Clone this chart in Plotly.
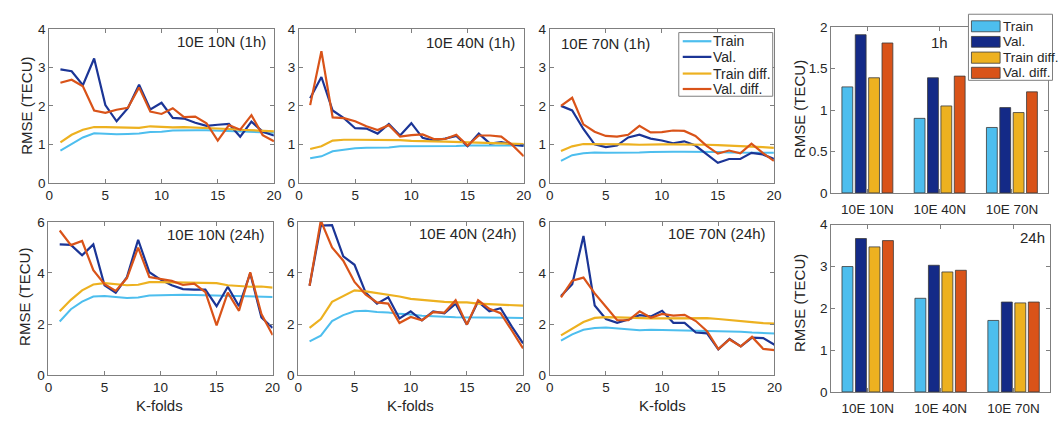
import plotly.graph_objects as go

W, H = 1061, 425
kfolds = list(range(1, 21))
series_names = ["Train", "Val.", "Train diff.", "Val. diff."]
line_colors = ["#4DBEEE", "#1B3596", "#EDB120", "#D95319"]
bar_colors = ["#4DBEEE", "#142A87", "#EDB120", "#D95319"]
stations = ["10E 10N", "10E 40N", "10E 70N"]

# ---- 1h line panels ----
p1_train = [0.84, 1.00, 1.18, 1.29, 1.28, 1.26, 1.27, 1.28, 1.32, 1.33, 1.36, 1.37, 1.37, 1.37, 1.36, 1.35, 1.33, 1.32, 1.31, 1.30]
p1_val = [2.95, 2.90, 2.54, 3.23, 2.02, 1.60, 1.94, 2.55, 1.91, 2.08, 1.69, 1.67, 1.56, 1.48, 1.51, 1.53, 1.20, 1.59, 1.33, 1.23]
p1_traindiff = [1.05, 1.25, 1.38, 1.45, 1.45, 1.44, 1.43, 1.43, 1.47, 1.45, 1.44, 1.45, 1.44, 1.43, 1.42, 1.40, 1.38, 1.37, 1.36, 1.34]
p1_valdiff = [2.60, 2.68, 2.51, 1.88, 1.82, 1.90, 1.95, 2.48, 1.85, 1.79, 1.94, 1.71, 1.72, 1.55, 1.10, 1.50, 1.38, 1.76, 1.24, 1.08]

p2_train = [0.64, 0.69, 0.82, 0.86, 0.90, 0.91, 0.92, 0.92, 0.95, 0.95, 0.95, 0.96, 0.96, 0.96, 0.97, 0.97, 0.97, 0.97, 0.97, 0.97]
p2_val = [2.20, 2.75, 1.88, 1.68, 1.42, 1.41, 1.28, 1.53, 1.23, 1.55, 1.17, 1.10, 1.15, 1.22, 0.95, 1.28, 1.02, 1.06, 1.00, 0.96]
p2_traindiff = [0.88, 0.95, 1.10, 1.12, 1.12, 1.12, 1.12, 1.11, 1.11, 1.09, 1.09, 1.08, 1.07, 1.06, 1.06, 1.04, 1.03, 1.03, 1.02, 1.01]
p2_valdiff = [2.02, 3.42, 1.70, 1.68, 1.60, 1.47, 1.37, 1.50, 1.20, 1.24, 1.26, 1.14, 1.14, 1.25, 0.97, 1.23, 1.23, 1.20, 0.98, 0.69]

p3_train = [0.57, 0.72, 0.77, 0.79, 0.78, 0.78, 0.79, 0.79, 0.80, 0.81, 0.81, 0.81, 0.81, 0.81, 0.80, 0.79, 0.79, 0.79, 0.79, 0.78]
p3_val = [2.00, 1.88, 1.40, 1.00, 0.93, 0.97, 1.18, 1.25, 1.15, 1.10, 1.03, 1.08, 0.97, 0.75, 0.52, 0.62, 0.62, 0.78, 0.74, 0.62]
p3_traindiff = [0.83, 0.95, 1.01, 1.01, 1.00, 1.00, 1.00, 0.99, 1.00, 1.00, 1.00, 1.00, 1.00, 0.99, 0.98, 0.97, 0.95, 0.94, 0.93, 0.91]
p3_valdiff = [2.00, 2.21, 1.52, 1.33, 1.22, 1.20, 1.25, 1.48, 1.31, 1.32, 1.36, 1.35, 1.22, 0.96, 0.76, 0.84, 0.77, 1.02, 0.78, 0.57]

# ---- 24h line panels ----
p4_train = [2.10, 2.58, 2.88, 3.08, 3.10, 3.07, 3.02, 3.04, 3.12, 3.13, 3.15, 3.15, 3.14, 3.13, 3.12, 3.09, 3.09, 3.08, 3.09, 3.06]
p4_val = [5.12, 5.10, 4.69, 5.12, 3.52, 3.23, 3.84, 5.30, 4.03, 3.74, 3.52, 3.37, 3.35, 3.35, 2.70, 3.46, 2.70, 3.99, 2.26, 1.85]
p4_traindiff = [2.50, 2.95, 3.32, 3.55, 3.60, 3.55, 3.52, 3.54, 3.64, 3.64, 3.63, 3.62, 3.62, 3.62, 3.60, 3.52, 3.50, 3.46, 3.47, 3.43]
p4_valdiff = [5.66, 5.09, 5.25, 4.11, 3.56, 3.30, 3.80, 4.99, 3.84, 3.77, 3.69, 3.53, 3.58, 3.25, 1.95, 3.23, 2.52, 4.03, 2.39, 1.57]

p5_train = [1.32, 1.55, 2.12, 2.35, 2.50, 2.52, 2.47, 2.45, 2.40, 2.38, 2.33, 2.32, 2.29, 2.27, 2.26, 2.26, 2.26, 2.25, 2.24, 2.24]
p5_val = [3.50, 5.85, 5.87, 4.65, 4.32, 3.22, 2.80, 3.05, 2.22, 2.50, 2.15, 2.50, 2.42, 2.80, 1.98, 2.88, 2.50, 2.62, 1.90, 1.25]
p5_traindiff = [1.85, 2.20, 2.87, 3.10, 3.32, 3.28, 3.22, 3.15, 3.08, 2.99, 2.95, 2.90, 2.87, 2.85, 2.85, 2.80, 2.78, 2.76, 2.75, 2.72]
p5_valdiff = [3.50, 6.05, 5.00, 4.48, 3.65, 3.15, 2.85, 2.80, 2.04, 2.28, 2.15, 2.47, 2.45, 2.93, 1.98, 2.93, 2.60, 2.43, 1.75, 1.05]

p6_train = [1.35, 1.60, 1.78, 1.85, 1.87, 1.83, 1.80, 1.76, 1.78, 1.77, 1.76, 1.77, 1.76, 1.75, 1.74, 1.72, 1.70, 1.67, 1.65, 1.63]
p6_val = [3.10, 3.56, 5.45, 2.73, 2.20, 2.05, 2.18, 2.35, 2.30, 2.52, 2.05, 2.05, 1.67, 1.64, 1.01, 1.42, 1.13, 1.47, 1.45, 1.19]
p6_traindiff = [1.56, 1.83, 2.08, 2.24, 2.27, 2.26, 2.24, 2.23, 2.22, 2.22, 2.22, 2.22, 2.23, 2.23, 2.20, 2.15, 2.13, 2.08, 2.04, 2.02]
p6_valdiff = [3.05, 3.70, 3.82, 3.20, 2.68, 2.15, 2.15, 2.50, 2.25, 2.40, 2.33, 2.36, 2.12, 1.72, 1.02, 1.40, 1.13, 1.50, 1.03, 0.98]

# ---- bar panels (per series, over stations) ----
bar1h_train = [1.28, 0.90, 0.79]
bar1h_val = [1.91, 1.39, 1.03]
bar1h_traindiff = [1.39, 1.05, 0.97]
bar1h_valdiff = [1.81, 1.41, 1.22]

bar24h_train = [3.00, 2.24, 1.71]
bar24h_val = [3.67, 3.03, 2.15]
bar24h_traindiff = [3.47, 2.87, 2.13]
bar24h_valdiff = [3.62, 2.91, 2.15]

panel_titles = ["10E 10N (1h)", "10E 40N (1h)", "10E 70N (1h)",
                "10E 10N (24h)", "10E 40N (24h)", "10E 70N (24h)"]

FONT = "Liberation Sans, Arial, Helvetica, sans-serif"
TXT = "#262626"
AX = "#7f7f7f"


def dx(a, b):
    return [a / W, b / W]


def dy(top, bottom):
    return [1 - bottom / H, 1 - top / H]


def px(x):
    return x / W


def py(y):
    return 1 - y / H


fig = go.Figure()

line_panels = [
    (p1_train, p1_val, p1_traindiff, p1_valdiff),
    (p2_train, p2_val, p2_traindiff, p2_valdiff),
    (p3_train, p3_val, p3_traindiff, p3_valdiff),
    (p4_train, p4_val, p4_traindiff, p4_valdiff),
    (p5_train, p5_val, p5_traindiff, p5_valdiff),
    (p6_train, p6_val, p6_traindiff, p6_valdiff),
]

for i, panel in enumerate(line_panels):
    ax = i + 1
    xa = "x" if ax == 1 else f"x{ax}"
    ya = "y" if ax == 1 else f"y{ax}"
    for s, (name, vals, col) in enumerate(zip(series_names, panel, line_colors)):
        fig.add_trace(go.Scatter(
            x=kfolds, y=vals, mode="lines", name=name,
            line=dict(color=col, width=2.2 if s != 0 else 2),
            xaxis=xa, yaxis=ya, showlegend=False,
        ))

bar_sets = [
    (bar1h_train, bar1h_val, bar1h_traindiff, bar1h_valdiff),
    (bar24h_train, bar24h_val, bar24h_traindiff, bar24h_valdiff),
]
for b, bs in enumerate(bar_sets):
    ax = 7 + b
    for name, vals, col in zip(series_names, bs, bar_colors):
        fig.add_trace(go.Bar(
            x=stations, y=vals, name=name,
            marker=dict(color=col, line=dict(color="#3a3a3a", width=0.8)),
            xaxis=f"x{ax}", yaxis=f"y{ax}", showlegend=False,
        ))

line_dom = [
    (dx(45.7, 273.0), dy(22.7, 182.3)),
    (dx(298.3, 525.7), dy(22.7, 182.3)),
    (dx(552.0, 778.7), dy(22.7, 182.3)),
    (dx(45.0, 271.7), dy(222.7, 381.7)),
    (dx(297.7, 525.0), dy(222.7, 381.7)),
    (dx(552.0, 779.3), dy(222.7, 381.7)),
]
bar_dom = [
    (dx(836.7, 1056.0), dy(21.0, 192.7)),
    (dx(836.7, 1058.0), dy(225.7, 399.0)),
]

common = dict(showline=True, linecolor=AX, linewidth=1, mirror="ticks",
              ticks="inside", ticklen=4, tickcolor=AX, showgrid=False,
              zeroline=False, fixedrange=True)

layout = {}
for i, (xd, yd) in enumerate(line_dom):
    ax = i + 1
    xk = "xaxis" if ax == 1 else f"xaxis{ax}"
    yk = "yaxis" if ax == 1 else f"yaxis{ax}"
    anc_x = "y" if ax == 1 else f"y{ax}"
    anc_y = "x" if ax == 1 else f"x{ax}"
    top = i < 3
    layout[xk] = dict(domain=xd, anchor=anc_x, range=[0, 20],
                      tickvals=[0, 5, 10, 15, 20],
                      tickfont=dict(family=FONT, size=13.5, color=TXT), **common)
    layout[yk] = dict(domain=yd, anchor=anc_y,
                      range=[0, 4] if top else [0, 6],
                      tickvals=[0, 1, 2, 3, 4] if top else [0, 2, 4, 6],
                      tickfont=dict(family=FONT, size=13.5, color=TXT), **common)

for b, (xd, yd) in enumerate(bar_dom):
    ax = 7 + b
    layout[f"xaxis{ax}"] = dict(domain=xd, anchor=f"y{ax}", type="category",
                                range=[-0.5, 2.5], ticklabelstandoff=4,
                                tickfont=dict(family=FONT, size=13.5, color=TXT), **common)
    layout[f"yaxis{ax}"] = dict(domain=yd, anchor=f"x{ax}",
                                range=[0, 2] if b == 0 else [0, 4],
                                tickvals=[0, 0.5, 1, 1.5, 2] if b == 0 else [0, 1, 2, 3, 4],
                                ticktext=["0", "0.5", "1", "1.5", "2"] if b == 0 else ["0", "1", "2", "3", "4"],
                                tickfont=dict(family=FONT, size=13.5, color=TXT), **common)

annotations = []
shapes = []


def ann(text, x, y, xanchor="center", yanchor="middle", size=15, angle=0):
    annotations.append(dict(text=text, x=px(x), y=py(y), xref="paper", yref="paper",
                            xanchor=xanchor, yanchor=yanchor, showarrow=False,
                            textangle=angle, borderpad=0,
                            font=dict(family=FONT, size=size, color=TXT)))


ann(panel_titles[0], 266, 36, "right")
ann(panel_titles[1], 518, 37, "right")
ann(panel_titles[2], 562, 38, "left")
ann(panel_titles[3], 265, 236, "right")
ann(panel_titles[4], 520, 235, "right")
ann(panel_titles[5], 772, 235, "right")
ann("1h", 946, 37, "center", size=15)
ann("24h", 1054, 239, "right", size=15)
ann("RMSE (TECU)", 22.7, 102, angle=-90)
ann("RMSE (TECU)", 20.7, 300, angle=-90)
ann("RMSE (TECU)", 804, 106, angle=-90)
ann("RMSE (TECU)", 804, 307, angle=-90)
ann("K-folds", 157, 413)
ann("K-folds", 411, 413)
ann("K-folds", 666, 413)


def rect(x0, y0, x1, y1, fill="white", line=AX, width=1):
    shapes.append(dict(type="rect", xref="paper", yref="paper",
                       x0=px(x0), x1=px(x1), y0=py(y1), y1=py(y0),
                       fillcolor=fill, line=dict(color=line, width=width), layer="above"))


# line legend (panel 3)
rect(682.5, 26.5, 777.5, 92.5)
leg_rows = [35.5, 51.7, 69.0, 85.0]
for name, col, yy in zip(series_names, line_colors, leg_rows):
    shapes.append(dict(type="line", xref="paper", yref="paper",
                       x0=px(686.5), x1=px(715.5), y0=py(yy), y1=py(yy),
                       line=dict(color=col, width=2.2), layer="above"))
    ann(name, 716.5, yy, "left", size=14)

# bar legend (1h bar panel)
rect(975.5, 7.5, 1060.5, 76.0)
bar_rows = [(14.3, 25.7), (30.5, 41.7), (46.7, 58.3), (62.5, 74.0)]
for name, col, (y0, y1) in zip(series_names, bar_colors, bar_rows):
    rect(978.5, y0, 1007.5, y1, fill=col, line="#3a3a3a", width=0.8)
    ann(name, 1009, (y0 + y1) / 2, "left", size=13.5)

fig.update_layout(
    width=W, height=H,
    margin=dict(l=0, r=0, t=0, b=0),
    paper_bgcolor="white", plot_bgcolor="white",
    font=dict(family=FONT, color=TXT),
    barmode="group", bargap=0.26, bargroupgap=0.19,
    showlegend=False,
    annotations=annotations,
    shapes=shapes,
    **layout,
)

fig.write_html("out.html")
